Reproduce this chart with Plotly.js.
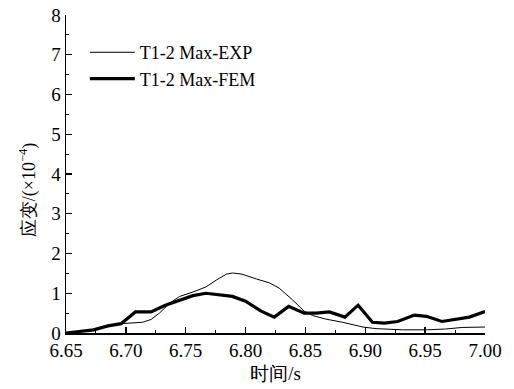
<!DOCTYPE html>
<html>
<head>
<meta charset="utf-8">
<script src="https://cdn.plot.ly/plotly-3.0.1.min.js"></script>
<style>html,body{margin:0;padding:0;background:#fff;}</style>
</head>
<body>
<div id="chart" style="width:514px;height:389px;"></div>
<script>
var timeExp = [6.650, 6.673, 6.696, 6.714, 6.721, 6.728, 6.737, 6.745, 6.756, 6.767, 6.776, 6.784, 6.789, 6.797, 6.809, 6.820, 6.828, 6.839, 6.849, 6.856, 6.867, 6.881, 6.898, 6.909, 6.931, 6.951, 6.967, 6.981, 7.000];
var strainExp = [0.00, 0.08, 0.235, 0.27, 0.34, 0.50, 0.76, 0.92, 1.03, 1.16, 1.34, 1.48, 1.51, 1.48, 1.36, 1.26, 1.13, 0.84, 0.55, 0.44, 0.35, 0.27, 0.15, 0.11, 0.08, 0.08, 0.10, 0.14, 0.15];
var timeFem = [6.650, 6.673, 6.685, 6.696, 6.708, 6.721, 6.733, 6.745, 6.756, 6.767, 6.778, 6.789, 6.800, 6.813, 6.824, 6.836, 6.849, 6.859, 6.870, 6.883, 6.894, 6.906, 6.916, 6.927, 6.941, 6.951, 6.964, 6.976, 6.987, 7.000];
var strainFem = [0.00, 0.08, 0.18, 0.235, 0.53, 0.53, 0.70, 0.82, 0.94, 1.00, 0.97, 0.92, 0.80, 0.55, 0.40, 0.67, 0.50, 0.50, 0.53, 0.40, 0.70, 0.27, 0.25, 0.29, 0.45, 0.42, 0.29, 0.34, 0.40, 0.54];
var xTicks = [6.65, 6.70, 6.75, 6.80, 6.85, 6.90, 6.95, 7.00];
var xTickLabels = ["6.65", "6.70", "6.75", "6.80", "6.85", "6.90", "6.95", "7.00"];
var yTicks = [0, 1, 2, 3, 4, 5, 6, 7, 8];
var seriesNames = ["T1-2 Max-EXP", "T1-2 Max-FEM"];

var serif = "Liberation Serif";

var traces = [
  {x: timeExp, y: strainExp, name: seriesNames[0], mode: "lines", cliponaxis: false,
   line: {color: "#000", width: 1}},
  {x: timeFem, y: strainFem, name: seriesNames[1], mode: "lines", cliponaxis: false,
   line: {color: "#000", width: 3.2}}
];

var layout = {
  width: 514, height: 389,
  margin: {l: 66, r: 29, t: 15, b: 56},
  paper_bgcolor: "#fff", plot_bgcolor: "#fff",
  font: {family: serif, color: "#000", size: 19},
  showlegend: true,
  legend: {x: 0.045, y: 0.94, xanchor: "left", yanchor: "top", bgcolor: "rgba(0,0,0,0)",
           font: {family: serif, size: 18, color: "#000"}, tracegroupgap: 0, itemwidth: 45},
  xaxis: {
    range: [6.65, 7.00], tickmode: "array", tickvals: xTicks, ticktext: xTickLabels,
    ticks: "inside", ticklen: 6, tickwidth: 1.3, tickcolor: "#000",
    showline: true, linecolor: "#000", linewidth: 1.5, showgrid: false, zeroline: false,
    tickfont: {family: serif, size: 19, color: "#000"},
    minor: {ticks: "inside", ticklen: 3, tickwidth: 1, tickcolor: "#000", dtick: 0.025, tick0: 6.65, showgrid: false},
    title: {text: "时间/s", font: {family: serif, size: 19, color: "#000"}, standoff: 6}
  },
  yaxis: {
    range: [0, 8], tickmode: "array", tickvals: yTicks,
    ticks: "inside", ticklen: 6, tickwidth: 1.3, tickcolor: "#000",
    showline: true, linecolor: "#000", linewidth: 1.5, showgrid: false, zeroline: false,
    tickfont: {family: serif, size: 19, color: "#000"},
    minor: {ticks: "inside", ticklen: 3, tickwidth: 1, tickcolor: "#000", dtick: 0.5, tick0: 0, showgrid: false}
  },
  annotations: [{
    text: "应变/(×10<sup>−4</sup>)", textangle: -90, showarrow: false,
    xref: "paper", yref: "paper", x: -0.09, y: 0.45, xanchor: "center", yanchor: "middle",
    font: {family: serif, size: 18, color: "#000"}
  }]
};

Plotly.newPlot("chart", traces, layout, {displayModeBar: false, staticPlot: true});
</script>
</body>
</html>
